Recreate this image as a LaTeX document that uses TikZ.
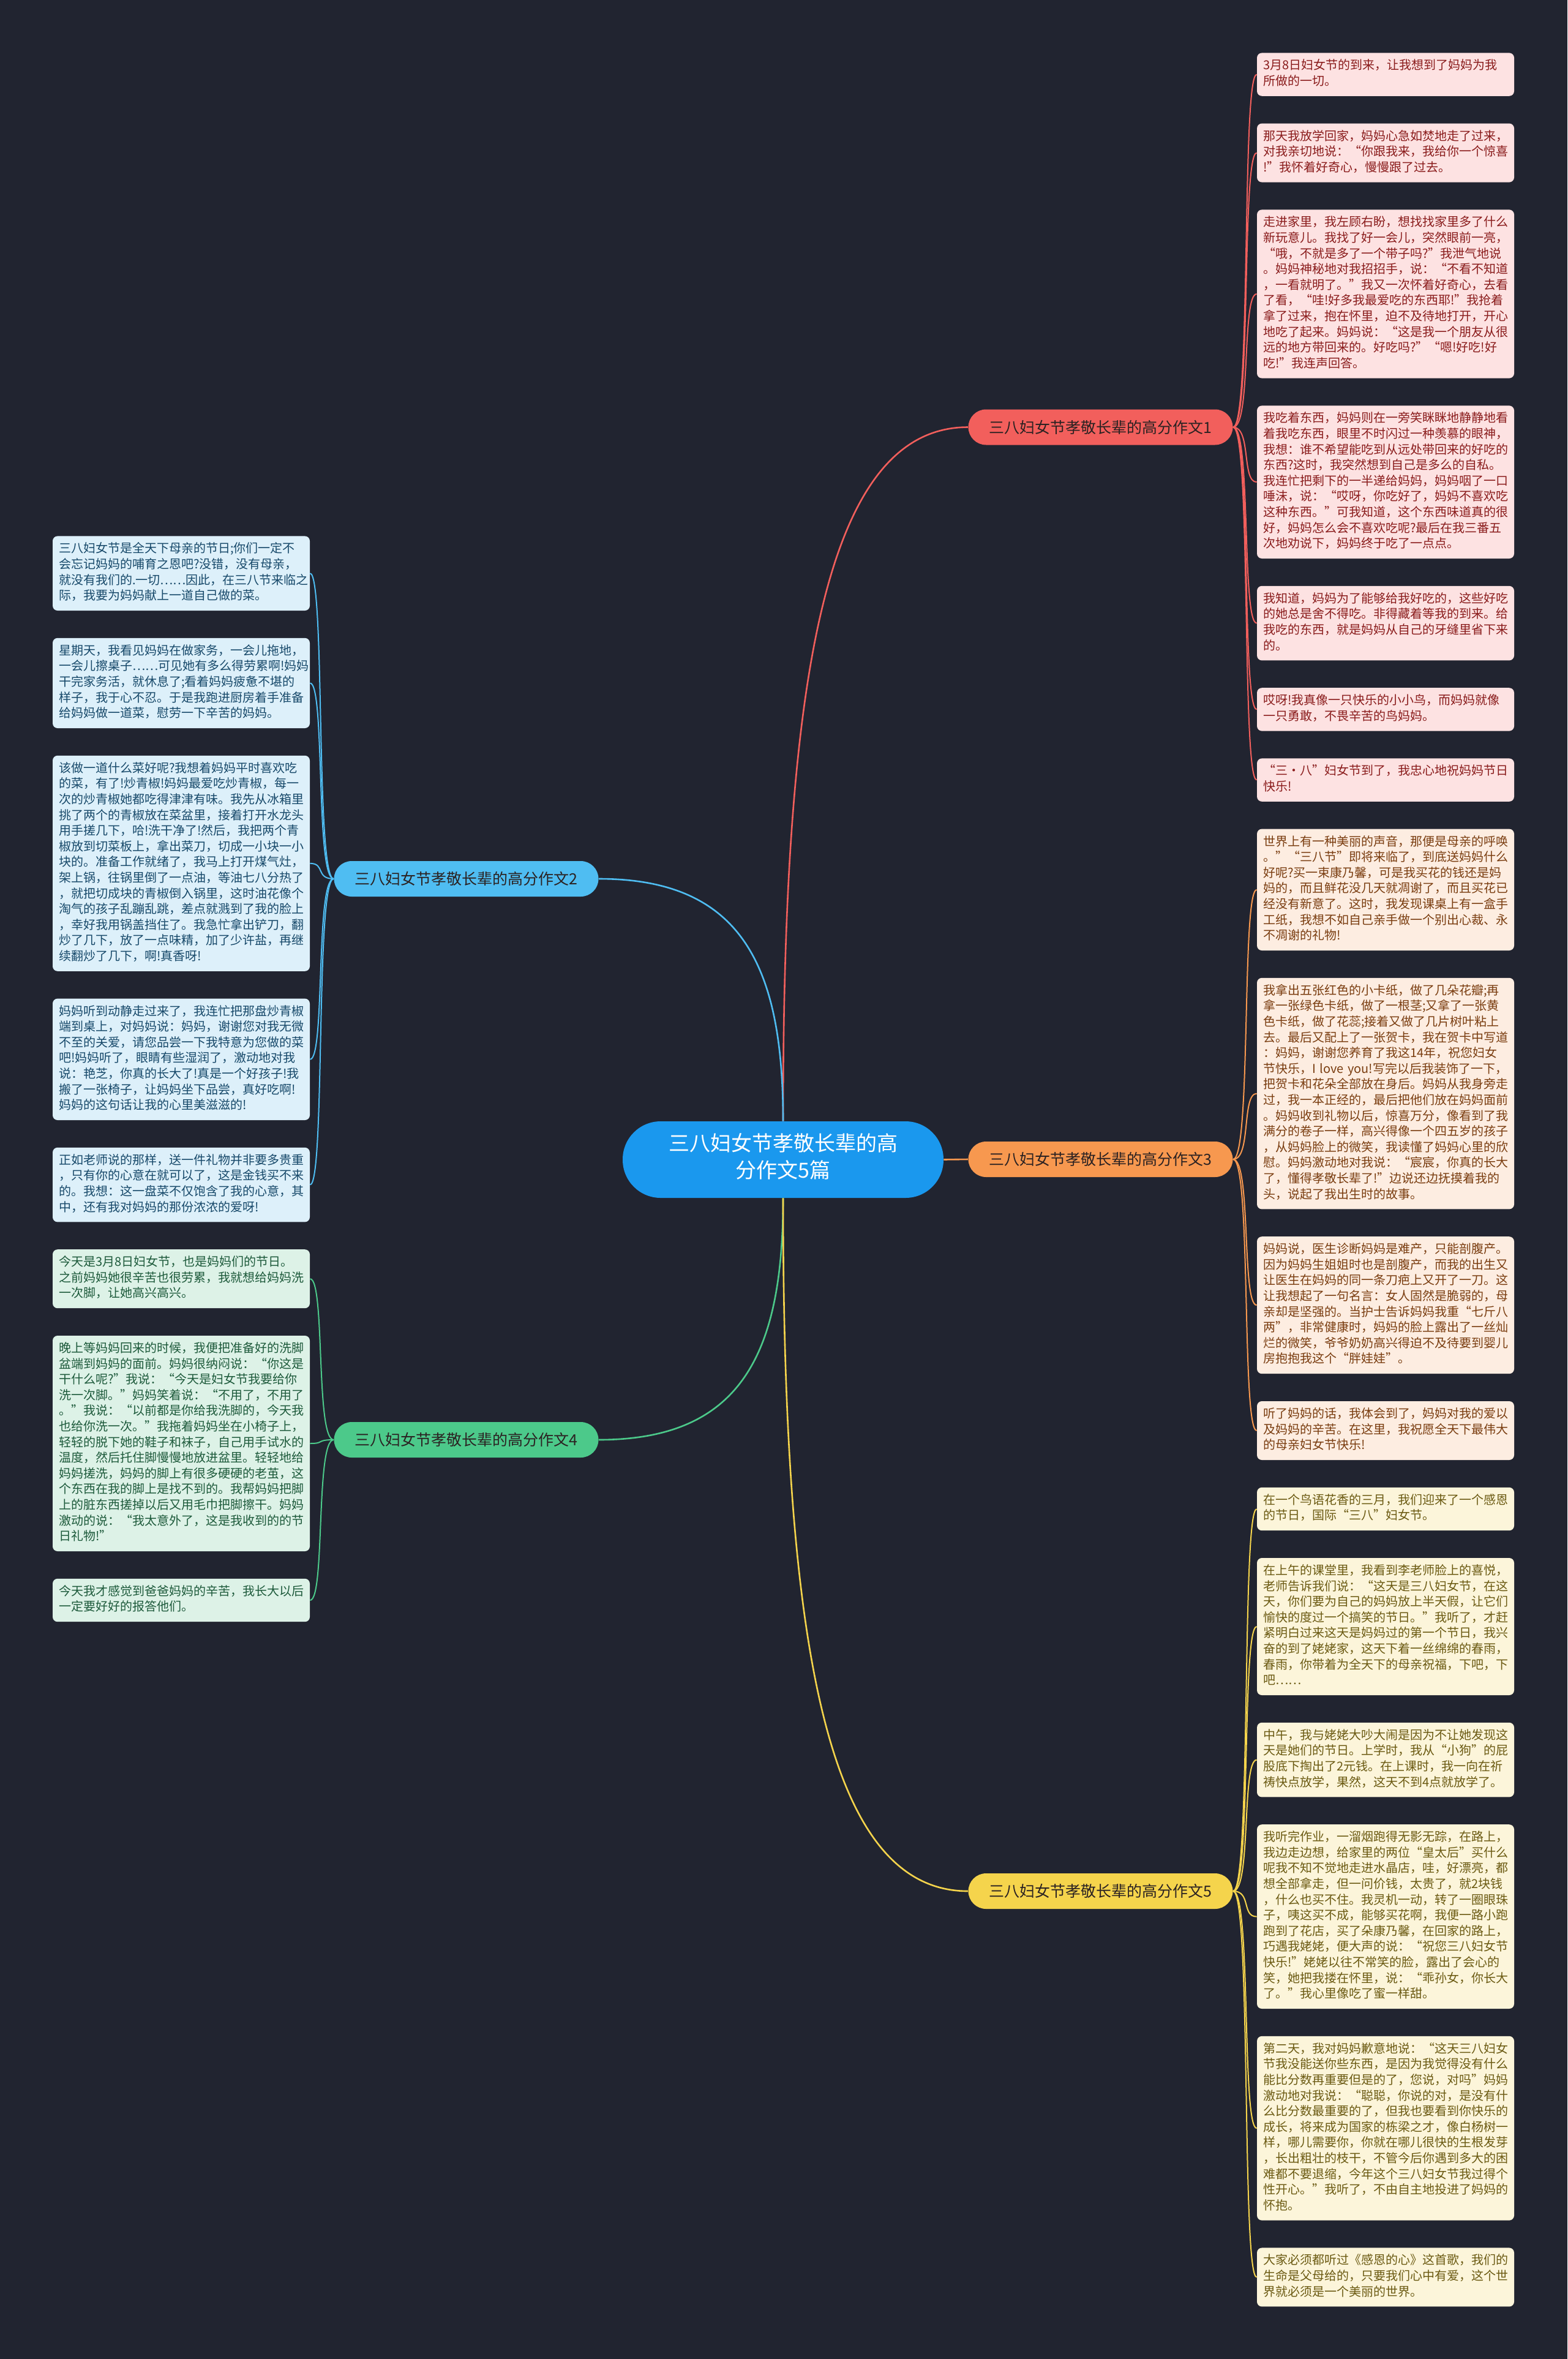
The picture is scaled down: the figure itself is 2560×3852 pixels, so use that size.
\documentclass[tikz,border=0pt]{standalone}
\usepackage{fontspec}
\usepackage{tikz}
\usetikzlibrary{positioning, calc}
\newfontfamily\cjk{Noto Sans CJK SC}
\definecolor{bgDark}{HTML}{212430}
\definecolor{rootFill}{HTML}{1A98EE}
\definecolor{redStroke}{HTML}{F25F5C}
\definecolor{redFill}{HTML}{FDE2E2}
\definecolor{redTxt}{HTML}{8A1C1C}
\definecolor{orangeStroke}{HTML}{F7984F}
\definecolor{orangeFill}{HTML}{FDEDE1}
\definecolor{orangeTxt}{HTML}{7A3D10}
\definecolor{yellowStroke}{HTML}{F5D44C}
\definecolor{yellowFill}{HTML}{FCF5DA}
\definecolor{yellowTxt}{HTML}{6B5A12}
\definecolor{blueStroke}{HTML}{4FBDF2}
\definecolor{blueFill}{HTML}{DDF0FA}
\definecolor{blueTxt}{HTML}{17496A}
\definecolor{greenStroke}{HTML}{4CC98A}
\definecolor{greenFill}{HTML}{DDF2E7}
\definecolor{greenTxt}{HTML}{1D5A3B}
\definecolor{branchTxt}{HTML}{2B2222}
\tikzset{
  leaf/.style={
    rectangle, rounded corners=4pt,
    text width=200pt, align=left,
    inner xsep=5pt, inner ysep=4.8pt,
    font={\cjk\fontsize{10}{12.8}\selectfont},
    execute at begin node=\strut, execute at end node=\strut
  },
  redleaf/.style={leaf, fill=redFill, text=redTxt},
  orangeleaf/.style={leaf, fill=orangeFill, text=orangeTxt},
  yellowleaf/.style={leaf, fill=yellowFill, text=yellowTxt},
  blueleaf/.style={leaf, fill=blueFill, text=blueTxt},
  greenleaf/.style={leaf, fill=greenFill, text=greenTxt},
  branch/.style={
    rectangle, rounded corners=14.5pt,
    minimum width=216pt, minimum height=29pt, inner sep=0pt,
    font={\cjk\fontsize{12.5}{15}\selectfont}, text=branchTxt
  },
  rootbox/.style={
    rectangle, rounded corners=31pt, fill=rootFill, text=white,
    minimum width=262pt, minimum height=62.5pt, inner sep=0pt, align=center,
    font={\cjk\fontsize{17}{22}\selectfont},
    execute at begin node=\strut, execute at end node=\strut
  },
  link/.style={line width=1.3pt},
  twig/.style={line width=1pt},
}
\begin{document}
\begin{tikzpicture}[x=0.5pt, y=-0.5pt]
    \fill[bgDark] (0,0) rectangle (2560,3852);
    \useasboundingbox (0,0) rectangle (2560,3852);

    % centre and branches
    \node[rootbox] (root) at (1279,1893.5) {三八妇女节孝敬长辈的高\\分作文5篇};
    \node[branch, fill=redStroke] (b1) at (1797.5,697.5) {三八妇女节孝敬长辈的高分作文1};
    \node[branch, fill=blueStroke] (b2) at (761.5,1435) {三八妇女节孝敬长辈的高分作文2};
    \node[branch, fill=orangeStroke] (b3) at (1797.5,1893) {三八妇女节孝敬长辈的高分作文3};
    \node[branch, fill=greenStroke] (b4) at (761.5,2351) {三八妇女节孝敬长辈的高分作文4};
    \node[branch, fill=yellowStroke] (b5) at (1797.5,3088) {三八妇女节孝敬长辈的高分作文5};

    % right column
    \node[redleaf, anchor=north] (r1a) at (2263,86) {3月8日妇女节的到来，让我想到了妈妈为我\\所做的一切。};
    \node[redleaf, below=22pt of r1a] (r1b) {那天我放学回家，妈妈心急如焚地走了过来，\\对我亲切地说：“你跟我来，我给你一个惊喜\\!”我怀着好奇心，慢慢跟了过去。};
    \node[redleaf, below=22pt of r1b] (r1c) {走进家里，我左顾右盼，想找找家里多了什么\\新玩意儿。我找了好一会儿，突然眼前一亮，\\“哦，不就是多了一个带子吗?”我泄气地说\\。妈妈神秘地对我招招手，说：“不看不知道\\，一看就明了。”我又一次怀着好奇心，去看\\了看，“哇!好多我最爱吃的东西耶!”我抢着\\拿了过来，抱在怀里，迫不及待地打开，开心\\地吃了起来。妈妈说：“这是我一个朋友从很\\远的地方带回来的。好吃吗?”“嗯!好吃!好\\吃!”我连声回答。};
    \node[redleaf, below=22pt of r1c] (r1d) {我吃着东西，妈妈则在一旁笑眯眯地静静地看\\着我吃东西，眼里不时闪过一种羡慕的眼神，\\我想：谁不希望能吃到从远处带回来的好吃的\\东西?这时，我突然想到自己是多么的自私。\\我连忙把剩下的一半递给妈妈，妈妈咽了一口\\唾沫，说：“哎呀，你吃好了，妈妈不喜欢吃\\这种东西。”可我知道，这个东西味道真的很\\好，妈妈怎么会不喜欢吃呢?最后在我三番五\\次地劝说下，妈妈终于吃了一点点。};
    \node[redleaf, below=22pt of r1d] (r1e) {我知道，妈妈为了能够给我好吃的，这些好吃\\的她总是舍不得吃。非得藏着等我的到来。给\\我吃的东西，就是妈妈从自己的牙缝里省下来\\的。};
    \node[redleaf, below=22pt of r1e] (r1f) {哎呀!我真像一只快乐的小小鸟，而妈妈就像\\一只勇敢，不畏辛苦的鸟妈妈。};
    \node[redleaf, below=22pt of r1f] (r1g) {“三·八”妇女节到了，我忠心地祝妈妈节日\\快乐!};
    \node[orangeleaf, below=22pt of r1g] (o1) {世界上有一种美丽的声音，那便是母亲的呼唤\\。”“三八节”即将来临了，到底送妈妈什么\\好呢?买一束康乃馨，可是我买花的钱还是妈\\妈的，而且鲜花没几天就凋谢了，而且买花已\\经没有新意了。这时，我发现课桌上有一盒手\\工纸，我想不如自己亲手做一个别出心裁、永\\不凋谢的礼物!};
    \node[orangeleaf, below=22pt of o1] (o2) {我拿出五张红色的小卡纸，做了几朵花瓣;再\\拿一张绿色卡纸，做了一根茎;又拿了一张黄\\色卡纸，做了花蕊;接着又做了几片树叶粘上\\去。最后又配上了一张贺卡，我在贺卡中写道\\：妈妈，谢谢您养育了我这14年，祝您妇女\\节快乐，I~love~you!写完以后我装饰了一下，\\把贺卡和花朵全部放在身后。妈妈从我身旁走\\过，我一本正经的，最后把他们放在妈妈面前\\。妈妈收到礼物以后，惊喜万分，像看到了我\\满分的卷子一样，高兴得像一个四五岁的孩子\\，从妈妈脸上的微笑，我读懂了妈妈心里的欣\\慰。妈妈激动地对我说：“宸宸，你真的长大\\了，懂得孝敬长辈了!”边说还边抚摸着我的\\头，说起了我出生时的故事。};
    \node[orangeleaf, below=22pt of o2] (o3) {妈妈说，医生诊断妈妈是难产，只能剖腹产。\\因为妈妈生姐姐时也是剖腹产，而我的出生又\\让医生在妈妈的同一条刀疤上又开了一刀。这\\让我想起了一句名言：女人固然是脆弱的，母\\亲却是坚强的。当护士告诉妈妈我重“七斤八\\两”，非常健康时，妈妈的脸上露出了一丝灿\\烂的微笑，爷爷奶奶高兴得迫不及待要到婴儿\\房抱抱我这个“胖娃娃”。};
    \node[orangeleaf, below=22pt of o3] (o4) {听了妈妈的话，我体会到了，妈妈对我的爱以\\及妈妈的辛苦。在这里，我祝愿全天下最伟大\\的母亲妇女节快乐!};
    \node[yellowleaf, below=22pt of o4] (y1) {在一个鸟语花香的三月，我们迎来了一个感恩\\的节日，国际“三八”妇女节。};
    \node[yellowleaf, below=22pt of y1] (y2) {在上午的课堂里，我看到李老师脸上的喜悦，\\老师告诉我们说：“这天是三八妇女节，在这\\天，你们要为自己的妈妈放上半天假，让它们\\愉快的度过一个搞笑的节日。”我听了，才赶\\紧明白过来这天是妈妈过的第一个节日，我兴\\奋的到了姥姥家，这天下着一丝绵绵的春雨，\\春雨，你带着为全天下的母亲祝福，下吧，下\\吧……};
    \node[yellowleaf, below=22pt of y2] (y3) {中午，我与姥姥大吵大闹是因为不让她发现这\\天是她们的节日。上学时，我从“小狗”的屁\\股底下掏出了2元钱。在上课时，我一向在祈\\祷快点放学，果然，这天不到4点就放学了。};
    \node[yellowleaf, below=22pt of y3] (y4) {我听完作业，一溜烟跑得无影无踪，在路上，\\我边走边想，给家里的两位“皇太后”买什么\\呢我不知不觉地走进水晶店，哇，好漂亮，都\\想全部拿走，但一问价钱，太贵了，就2块钱\\，什么也买不住。我灵机一动，转了一圈眼珠\\子，咦这买不成，能够买花啊，我便一路小跑\\跑到了花店，买了朵康乃馨，在回家的路上，\\巧遇我姥姥，便大声的说：“祝您三八妇女节\\快乐!”姥姥以往不常笑的脸，露出了会心的\\笑，她把我搂在怀里，说：“乖孙女，你长大\\了。”我心里像吃了蜜一样甜。};
    \node[yellowleaf, below=22pt of y4] (y5) {第二天，我对妈妈歉意地说：“这天三八妇女\\节我没能送你些东西，是因为我觉得没有什么\\能比分数再重要但是的了，您说，对吗”妈妈\\激动地对我说：“聪聪，你说的对，是没有什\\么比分数最重要的了，但我也要看到你快乐的\\成长，将来成为国家的栋梁之才，像白杨树一\\样，哪儿需要你，你就在哪儿很快的生根发芽\\，长出粗壮的枝干，不管今后你遇到多大的困\\难都不要退缩，今年这个三八妇女节我过得个\\性开心。”我听了，不由自主地投进了妈妈的\\怀抱。};
    \node[yellowleaf, below=22pt of y5] (y6) {大家必须都听过《感恩的心》这首歌，我们的\\生命是父母给的，只要我们心中有爱，这个世\\界就必须是一个美丽的世界。};

    % left column
    \node[blueleaf, anchor=north] (l2a) at (296,875) {三八妇女节是全天下母亲的节日;你们一定不\\会忘记妈妈的哺育之恩吧?没错，没有母亲，\\就没有我们的.一切……因此，在三八节来临之\\际，我要为妈妈献上一道自己做的菜。};
    \node[blueleaf, below=22pt of l2a] (l2b) {星期天，我看见妈妈在做家务，一会儿拖地，\\一会儿擦桌子……可见她有多么得劳累啊!妈妈\\干完家务活，就休息了;看着妈妈疲惫不堪的\\样子，我于心不忍。于是我跑进厨房着手准备\\给妈妈做一道菜，慰劳一下辛苦的妈妈。};
    \node[blueleaf, below=22pt of l2b] (l2c) {该做一道什么菜好呢?我想着妈妈平时喜欢吃\\的菜，有了!炒青椒!妈妈最爱吃炒青椒，每一\\次的炒青椒她都吃得津津有味。我先从冰箱里\\挑了两个的青椒放在菜盆里，接着打开水龙头\\用手搓几下，哈!洗干净了!然后，我把两个青\\椒放到切菜板上，拿出菜刀，切成一小块一小\\块的。准备工作就绪了，我马上打开煤气灶，\\架上锅，往锅里倒了一点油，等油七八分热了\\，就把切成块的青椒倒入锅里，这时油花像个\\淘气的孩子乱蹦乱跳，差点就溅到了我的脸上\\，幸好我用锅盖挡住了。我急忙拿出铲刀，翻\\炒了几下，放了一点味精，加了少许盐，再继\\续翻炒了几下，啊!真香呀!};
    \node[blueleaf, below=22pt of l2c] (l2d) {妈妈听到动静走过来了，我连忙把那盘炒青椒\\端到桌上，对妈妈说：妈妈，谢谢您对我无微\\不至的关爱，请您品尝一下我特意为您做的菜\\吧!妈妈听了，眼睛有些湿润了，激动地对我\\说：艳芝，你真的长大了!真是一个好孩子!我\\搬了一张椅子，让妈妈坐下品尝，真好吃啊!\\妈妈的这句话让我的心里美滋滋的!};
    \node[blueleaf, below=22pt of l2d] (l2e) {正如老师说的那样，送一件礼物并非要多贵重\\，只有你的心意在就可以了，这是金钱买不来\\的。我想：这一盘菜不仅饱含了我的心意，其\\中，还有我对妈妈的那份浓浓的爱呀!};
    \node[greenleaf, below=22pt of l2e] (g1) {今天是3月8日妇女节，也是妈妈们的节日。\\之前妈妈她很辛苦也很劳累，我就想给妈妈洗\\一次脚，让她高兴高兴。};
    \node[greenleaf, below=22pt of g1] (g2) {晚上等妈妈回来的时候，我便把准备好的洗脚\\盆端到妈妈的面前。妈妈很纳闷说：“你这是\\干什么呢?”我说：“今天是妇女节我要给你\\洗一次脚。”妈妈笑着说：“不用了，不用了\\。”我说：“以前都是你给我洗脚的，今天我\\也给你洗一次。”我拖着妈妈坐在小椅子上，\\轻轻的脱下她的鞋子和袜子，自己用手试水的\\温度，然后托住脚慢慢地放进盆里。轻轻地给\\妈妈搓洗，妈妈的脚上有很多硬硬的老茧，这\\个东西在我的脚上是找不到的。我帮妈妈把脚\\上的脏东西搓掉以后又用毛巾把脚擦干。妈妈\\激动的说：“我太意外了，这是我收到的的节\\日礼物!”};
    \node[greenleaf, below=22pt of g2] (g3) {今天我才感觉到爸爸妈妈的辛苦，我长大以后\\一定要好好的报答他们。};

    % centre to branches
    \draw[link, redStroke] (root.north) .. controls +(0,-731) and +(-231,0) .. (b1.west);
    \draw[link, blueStroke] (root.north) .. controls +(0,-255) and +(232,0) .. (b2.east);
    \draw[link, orangeStroke] (root.east) -- (b3.west);
    \draw[link, greenStroke] (root.south) .. controls +(0,255) and +(232,0) .. (b4.east);
    \draw[link, yellowStroke] (root.south) .. controls +(0,730) and +(-231,0) .. (b5.west);

    % branches to leaves
    \draw[twig, redStroke] (b1.east) .. controls +(30,0) and +(-25,0) .. (r1a.west);
    \draw[twig, redStroke] (b1.east) .. controls +(30,0) and +(-25,0) .. (r1b.west);
    \draw[twig, redStroke] (b1.east) .. controls +(30,0) and +(-25,0) .. (r1c.west);
    \draw[twig, redStroke] (b1.east) .. controls +(30,0) and +(-25,0) .. (r1d.west);
    \draw[twig, redStroke] (b1.east) .. controls +(30,0) and +(-25,0) .. (r1e.west);
    \draw[twig, redStroke] (b1.east) .. controls +(30,0) and +(-25,0) .. (r1f.west);
    \draw[twig, redStroke] (b1.east) .. controls +(30,0) and +(-25,0) .. (r1g.west);
    \draw[twig, orangeStroke] (b3.east) .. controls +(30,0) and +(-25,0) .. (o1.west);
    \draw[twig, orangeStroke] (b3.east) .. controls +(30,0) and +(-25,0) .. (o2.west);
    \draw[twig, orangeStroke] (b3.east) .. controls +(30,0) and +(-25,0) .. (o3.west);
    \draw[twig, orangeStroke] (b3.east) .. controls +(30,0) and +(-25,0) .. (o4.west);
    \draw[twig, yellowStroke] (b5.east) .. controls +(30,0) and +(-25,0) .. (y1.west);
    \draw[twig, yellowStroke] (b5.east) .. controls +(30,0) and +(-25,0) .. (y2.west);
    \draw[twig, yellowStroke] (b5.east) .. controls +(30,0) and +(-25,0) .. (y3.west);
    \draw[twig, yellowStroke] (b5.east) .. controls +(30,0) and +(-25,0) .. (y4.west);
    \draw[twig, yellowStroke] (b5.east) .. controls +(30,0) and +(-25,0) .. (y5.west);
    \draw[twig, yellowStroke] (b5.east) .. controls +(30,0) and +(-25,0) .. (y6.west);
    \draw[twig, blueStroke] (b2.west) .. controls +(-30,0) and +(25,0) .. (l2a.east);
    \draw[twig, blueStroke] (b2.west) .. controls +(-30,0) and +(25,0) .. (l2b.east);
    \draw[twig, blueStroke] (b2.west) .. controls +(-30,0) and +(25,0) .. (l2c.east);
    \draw[twig, blueStroke] (b2.west) .. controls +(-30,0) and +(25,0) .. (l2d.east);
    \draw[twig, blueStroke] (b2.west) .. controls +(-30,0) and +(25,0) .. (l2e.east);
    \draw[twig, greenStroke] (b4.west) .. controls +(-30,0) and +(25,0) .. (g1.east);
    \draw[twig, greenStroke] (b4.west) .. controls +(-30,0) and +(25,0) .. (g2.east);
    \draw[twig, greenStroke] (b4.west) .. controls +(-30,0) and +(25,0) .. (g3.east);
\end{tikzpicture}
\end{document}
